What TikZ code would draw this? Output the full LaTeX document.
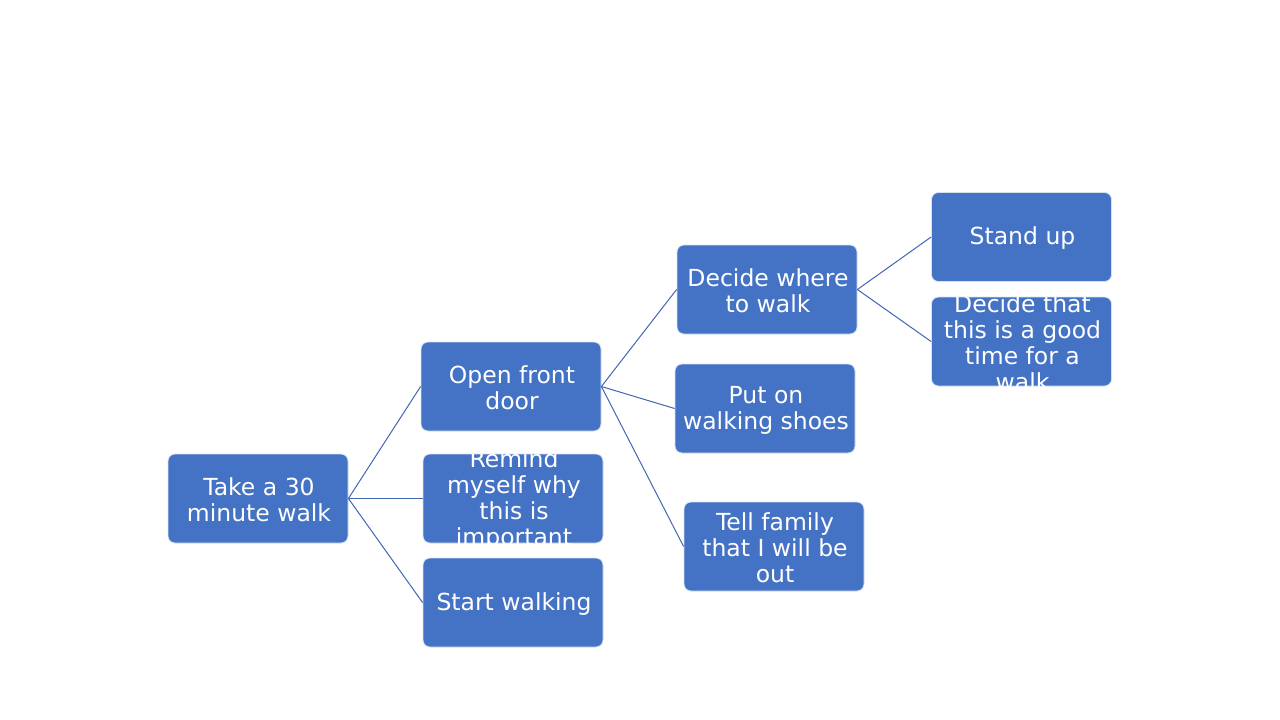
\documentclass[tikz,border=0pt]{standalone}
\usepackage{fontspec}
\setmainfont{DejaVu Sans}
\definecolor{boxblue}{HTML}{4472C4}
\definecolor{lineblue}{HTML}{4166B2}
\newcommand\wbox[4]{%
  \node[box] (#1) at (#2,#3) {};
  \begin{scope}
    \clip[rounded corners=7pt] (#1.south west) rectangle (#1.north east);
    \node[txt] (#1t) at (#1) {#4};
  \end{scope}}
\begin{document}
\begin{tikzpicture}[x=1pt,y=-1pt,
  box/.style={draw=white!78!boxblue, line width=0.8pt, fill=boxblue, rounded corners=7pt,
    minimum width=180pt, minimum height=89pt, inner sep=0pt},
  txt/.style={text=white, align=center, font=\fontsize{23.5}{26}\selectfont, inner sep=0pt,
    xshift=1pt, yshift=-1.5pt},
  link/.style={draw=lineblue, line width=1pt}]
\useasboundingbox (0,0) rectangle (1280,720);

\wbox{a}{258}{498.5}{Take a 30\\minute walk}
\wbox{b}{511}{386.5}{Open front\\door}
\wbox{c}{513}{498.5}{Remind\\myself why\\this is\\important}
\wbox{d}{513}{602.5}{Start walking}
\wbox{e}{767}{289.5}{Decide where\\to walk}
\wbox{f}{765}{408.5}{Put on\\walking shoes}
\wbox{g}{774}{546.5}{Tell family\\that I will be\\out}
\wbox{h}{1021.5}{237}{Stand up}
\wbox{i}{1021.5}{341.5}{Decide that\\this is a good\\time for a\\walk}

\draw[link] (a.east) -- (b.west);
\draw[link] (a.east) -- (c.west);
\draw[link] (a.east) -- (d.west);
\draw[link] (b.east) -- (e.west);
\draw[link] (b.east) -- (f.west);
\draw[link] (b.east) -- (g.west);
\draw[link] (e.east) -- (h.west);
\draw[link] (e.east) -- (i.west);
\end{tikzpicture}
\end{document}
